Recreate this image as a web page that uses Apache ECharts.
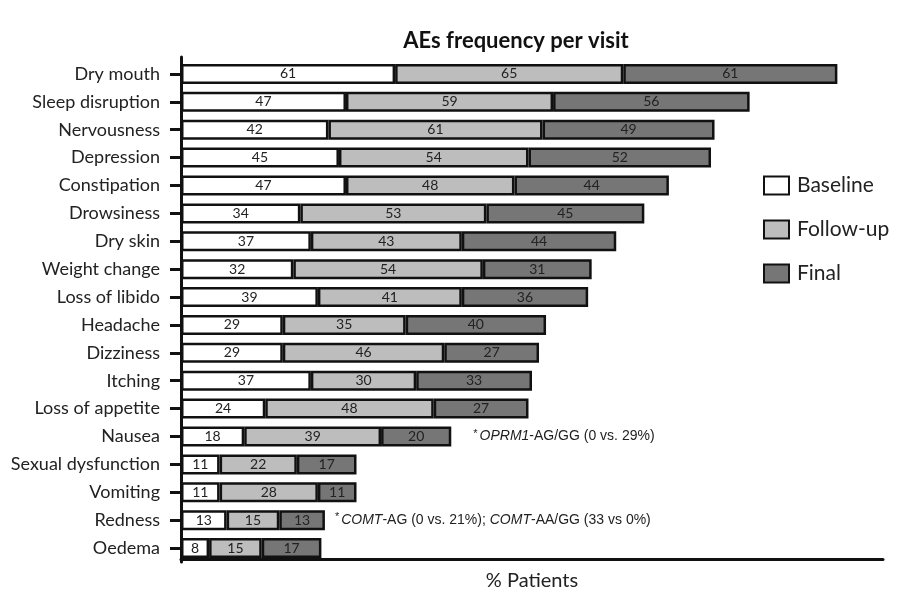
<!DOCTYPE html>
<html>
<head>
<meta charset="utf-8">
<script src="https://cdn.jsdelivr.net/npm/echarts@6/dist/echarts.min.js"></script>
<style>html,body{margin:0;padding:0;background:#fff;}#c{width:898px;height:596px;}</style>
</head>
<body>
<div id="c"></div>
<script>
const categories = ["Dry mouth","Sleep disruption","Nervousness","Depression","Constipation","Drowsiness","Dry skin","Weight change","Loss of libido","Headache","Dizziness","Itching","Loss of appetite","Nausea","Sexual dysfunction","Vomiting","Redness","Oedema"];
const baseline = [61,47,42,45,47,34,37,32,39,29,29,37,24,18,11,11,13,8];
const followUp = [65,59,61,54,48,53,43,54,41,35,46,30,48,39,22,28,15,15];
const finalV  = [61,56,49,52,44,45,44,31,36,40,27,33,27,20,17,11,13,17];
const notes = {"Nausea":"oprm","Redness":"comt"};

const chart = echarts.init(document.getElementById('c'));
const lab = {show:true, position:'inside', color:'#222', fontSize:14, fontFamily:'Lato'};
function mk(name, data, color){
  return {name, type:'bar', stack:'t', data, barWidth:20, xAxisIndex:0, yAxisIndex:0,
    itemStyle:{color, borderColor:'#111', borderWidth:2.5}, label:lab, emphasis:{disabled:true}};
}
const noteData = categories.map(c => {
  if (notes[c]==='oprm') return {value:0, label:{show:true, distance:22, formatter:'{s|*}{i|OPRM1}{n|-AG/GG (0 vs. 29%)}'}};
  if (notes[c]==='comt') return {value:0, label:{show:true, distance:10, formatter:'{s|*}{i|COMT}{n|-AG (0 vs. 21%); }{i|COMT}{n|-AA/GG (33 vs 0%)}'}};
  return {value:0};
});
const rich = {
  s:{fontSize:11, color:'#222', fontFamily:'Liberation Sans', verticalAlign:'top', padding:[0,2,6,0]},
  i:{fontSize:14, color:'#222', fontFamily:'Liberation Sans', fontStyle:'italic'},
  n:{fontSize:14, color:'#222', fontFamily:'Liberation Sans'}
};
chart.setOption({
  animation:false,
  backgroundColor:'#fff',
  title:{text:'AEs frequency per visit', left:511, top:25, textAlign:'center',
    textStyle:{fontFamily:'Lato', fontWeight:'bold', fontSize:22, color:'#111'}},
  legend:{data:['Baseline','Follow-up','Final'], orient:'vertical', left:763, top:175, padding:0,
    icon:'rect', itemWidth:25, itemHeight:18, itemGap:23, selectedMode:false,
    textStyle:{fontFamily:'Lato', fontSize:21, color:'#222', padding:[0,0,0,3]}},
  grid:[
    {left:181, right:15, top:60, bottom:34},
    {left:181, right:15, top:57, bottom:28}
  ],
  xAxis:[
    {gridIndex:0, type:'value', min:0, max:200, axisLine:{show:false}, axisTick:{show:false},
     axisLabel:{show:false}, splitLine:{show:false}},
    {gridIndex:1, type:'value', min:0, max:200, axisLine:{show:true, lineStyle:{color:'#111', width:3}},
     axisTick:{show:false}, axisLabel:{show:false}, splitLine:{show:false},
     name:'% Patients', nameLocation:'middle', nameGap:12,
     nameTextStyle:{fontFamily:'Lato', fontSize:20, color:'#222'}}
  ],
  yAxis:[
    {gridIndex:0, type:'category', data:categories, inverse:true,
     axisLine:{show:true, lineStyle:{color:'#111', width:3}},
     axisTick:{show:true, alignWithLabel:true, length:11, lineStyle:{color:'#111', width:3}},
     axisLabel:{fontFamily:'Lato', fontSize:18, color:'#222', margin:21}},
    {gridIndex:1, type:'value', min:0, max:1, axisLine:{show:true, lineStyle:{color:'#111', width:3}},
     axisTick:{show:false}, axisLabel:{show:false}, splitLine:{show:false}}
  ],
  series:[
    mk('Baseline', baseline, '#ffffff'),
    mk('Follow-up', followUp, '#bdbdbd'),
    mk('Final', finalV, '#767676'),
    {name:'notes', type:'bar', stack:'t', data:noteData, barWidth:20, silent:true,
     itemStyle:{color:'rgba(0,0,0,0)', borderWidth:0},
     label:{show:false, position:'right', rich:rich}}
  ]
});
</script>
</body>
</html>
